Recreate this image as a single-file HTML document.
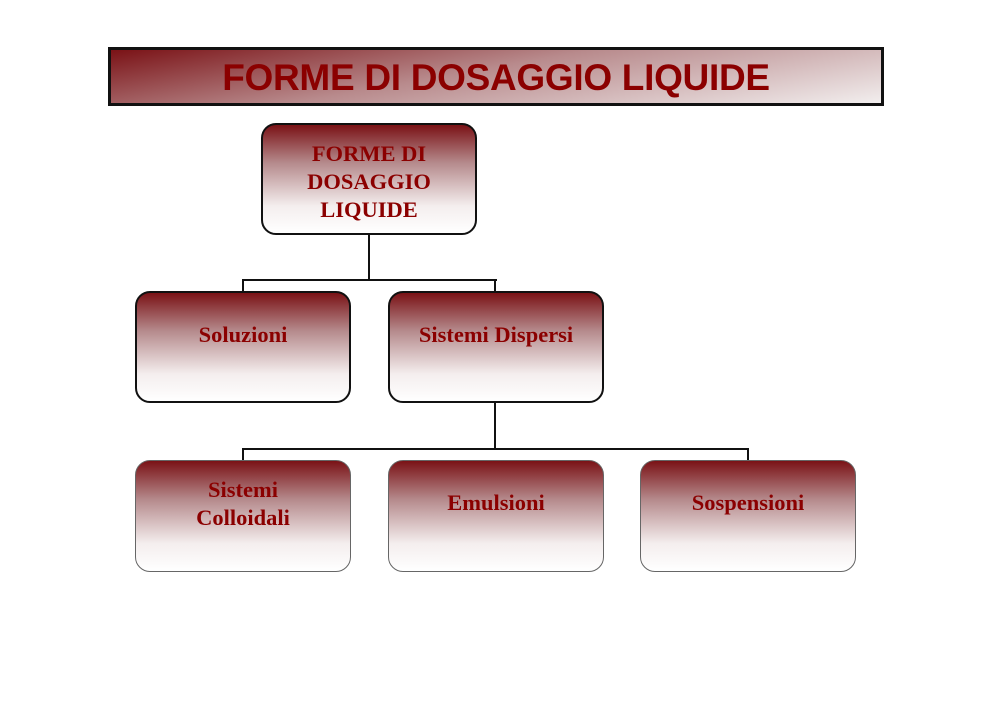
<!DOCTYPE html>
<html><head><style>
body{margin:0;width:992px;height:701px;background:#fff;position:relative;overflow:hidden}
.ban{position:absolute;left:108px;top:47px;width:770px;height:53px;border:3px solid #111;background:linear-gradient(170deg,#7a1216 0%,#b88a8c 45%,#f2eeee 100%);font:bold 37px "Liberation Sans",sans-serif;color:#8b0000;text-align:center;line-height:56px;letter-spacing:-0.3px}
.b{position:absolute;width:212px;height:108px;border:2px solid #111;border-radius:15px;background:linear-gradient(180deg,#7a1216 0%,#b58a8c 35%,#f4eeee 75%,#fff 100%);font:bold 22.5px "Liberation Serif",serif;color:#8b0000;text-align:center;box-sizing:content-box}
.l{position:absolute;background:#111}
.g{border:1px solid #666;width:214px;height:110px}
</style></head><body>
<div class="ban">FORME DI DOSAGGIO LIQUIDE</div>
<div class="b" style="left:261px;top:123px;line-height:28px"><div style="margin-top:15px">FORME DI<br>DOSAGGIO<br>LIQUIDE</div></div>
<div class="l" style="left:368px;top:235px;width:2px;height:46px"></div>
<div class="l" style="left:242px;top:279px;width:255px;height:2px"></div>
<div class="l" style="left:242px;top:279px;width:2px;height:13px"></div>
<div class="l" style="left:494px;top:279px;width:2px;height:13px"></div>
<div class="b" style="left:135px;top:291px"><div style="margin-top:29px">Soluzioni</div></div>
<div class="b" style="left:388px;top:291px"><div style="margin-top:29px">Sistemi Dispersi</div></div>
<div class="l" style="left:494px;top:403px;width:2px;height:47px"></div>
<div class="l" style="left:242px;top:448px;width:507px;height:2px"></div>
<div class="l" style="left:242px;top:448px;width:2px;height:13px"></div>
<div class="l" style="left:747px;top:448px;width:2px;height:13px"></div>
<div class="b g" style="left:135px;top:460px;line-height:28px"><div style="margin-top:15px">Sistemi<br>Colloidali</div></div>
<div class="b g" style="left:388px;top:460px"><div style="margin-top:29px">Emulsioni</div></div>
<div class="b g" style="left:640px;top:460px"><div style="margin-top:29px">Sospensioni</div></div>
</body></html>
